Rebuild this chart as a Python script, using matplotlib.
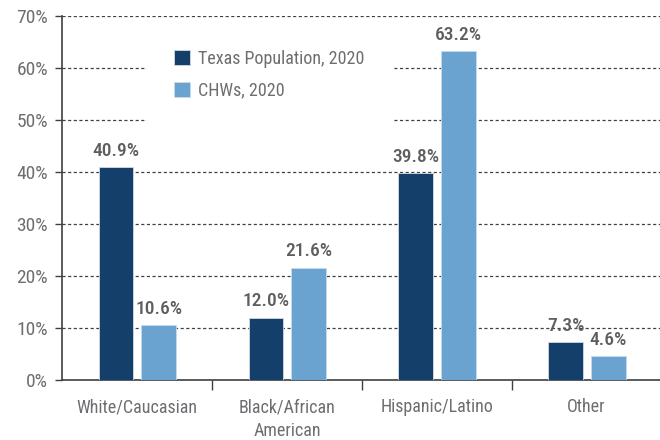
import matplotlib
matplotlib.use("Agg")
import matplotlib.pyplot as plt
from matplotlib import font_manager
import numpy as np

categories = ["White/Caucasian", "Black/African\nAmerican", "Hispanic/Latino", "Other"]
texas_pop = [40.9, 12.0, 39.8, 7.3]
chws = [10.6, 21.6, 63.2, 4.6]
series_names = ["Texas Population, 2020", "CHWs, 2020"]
yticks = [0, 10, 20, 30, 40, 50, 60, 70]

dark = "#153f6b"
light = "#6aa3d0"
txt = "#6d6e71"
lbl = "#5d5e60"

names = {f.name for f in font_manager.fontManager.ttflist}
fam = "DejaVu Sans"
for cand in ["Roboto Condensed", "Liberation Sans Narrow", "DejaVu Sans Condensed"]:
    if cand in names:
        fam = cand
        break
plt.rcParams["font.family"] = fam

fig = plt.figure(figsize=(6.6, 4.4), dpi=100)
ax = fig.add_axes([0.094, 0.1364, 0.906, 0.8272])

x = np.arange(len(categories))
w = 0.23
ax.bar(x - 0.14, texas_pop, w, color=dark, edgecolor="#d0dbe6", linewidth=0.6,
       label=series_names[0], zorder=3)
ax.bar(x + 0.145, chws, w, color=light, edgecolor="#c8dcee", linewidth=0.6,
       label=series_names[1], zorder=3)

for xi, v in zip(x, texas_pop):
    ax.text(xi - 0.14, v + 1.4, f"{v:.1f}%", ha="center", va="bottom",
            fontsize=14, color=lbl, fontweight="medium")
for xi, v in zip(x, chws):
    ax.text(xi + 0.145, v + 1.4, f"{v:.1f}%", ha="center", va="bottom",
            fontsize=14, color=lbl, fontweight="medium")

ax.set_ylim(0, 70)
ax.set_xlim(-0.5, 3.49)
ax.set_yticks(yticks)
ax.set_yticklabels([f"{t}%" for t in yticks], fontsize=14, color=txt)
ax.yaxis.grid(True, linestyle=(0, (2.5, 2)), color="#404040", linewidth=0.9, zorder=0)
ax.set_axisbelow(True)

ax.set_xticks(x)
ax.set_xticklabels(categories, fontsize=13, color=txt, linespacing=1.4)
ax.tick_params(axis="x", length=0, pad=13)
ax.set_xticks([0.5, 1.5, 2.5], minor=True)
ax.tick_params(axis="x", which="minor", length=7, color="#404040", width=1, direction="out")
ax.tick_params(axis="y", length=5, color="#404040", width=1, pad=5)

for s in ["top", "right"]:
    ax.spines[s].set_visible(False)
for s in ["left", "bottom"]:
    ax.spines[s].set_color("#404040")
    ax.spines[s].set_linewidth(1.2)

leg = ax.legend(loc="upper left", bbox_to_anchor=(0.142, 0.981), frameon=True,
                fontsize=13, labelcolor=txt, handlelength=0.9, handleheight=0.9,
                handletextpad=0.45, labelspacing=0.75, borderpad=1.5,
                borderaxespad=0)
leg.get_frame().set_edgecolor("none")
leg.get_frame().set_facecolor("white")
leg.get_frame().set_alpha(1)
leg.set_zorder(5)

fig.savefig("out.png", dpi=100)
